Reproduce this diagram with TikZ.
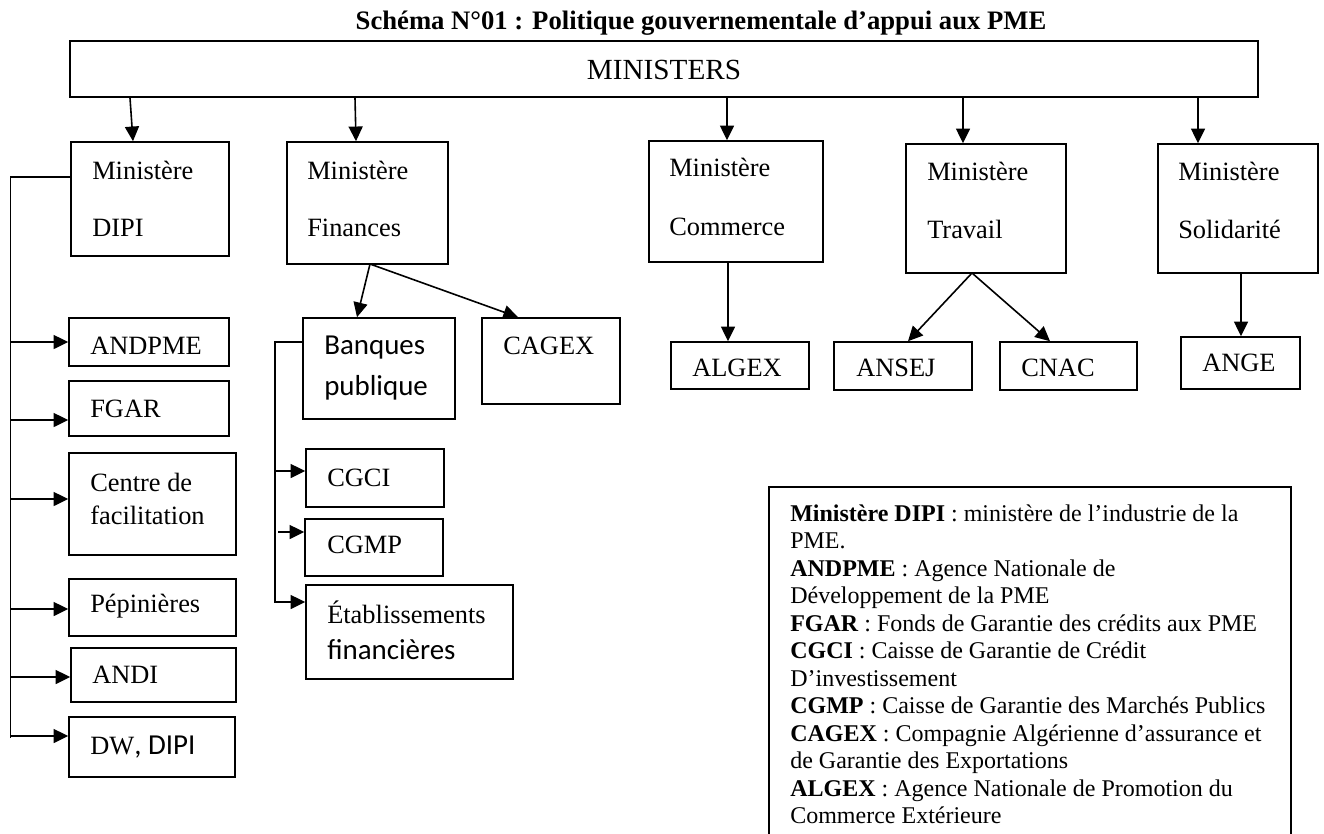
\documentclass[tikz,border=0pt]{standalone}
\usepackage{fontspec}
\setmainfont{Liberation Serif}
\newfontfamily\calib{Carlito}
\usetikzlibrary{arrows.meta,fit}
\begin{document}
\begin{tikzpicture}[x=0.75pt,y=-0.75pt,
  box/.style={draw, line width=1.2pt, inner sep=0pt, rectangle},
  txt/.style={anchor=west, inner sep=0pt, font=\fontsize{19.8}{22}\selectfont},
  sans/.style={anchor=west, inner sep=0pt, font=\calib\fontsize{21.7}{24}\selectfont},
  leg/.style={anchor=base west, inner sep=0pt, font=\fontsize{18}{20}\selectfont},
  ln/.style={line width=1.2pt},
  arr/.style={line width=1.2pt, -{Triangle[length=11pt,width=10.5pt]}}]
\fill[white] (0,0) rectangle (1324,833);
\useasboundingbox (0,0) rectangle (1324,833);
% title
\node[inner sep=0pt, font=\bfseries\fontsize{20}{24}\selectfont] (title) at (701,23) {Schéma N°01 : Politique gouvernementale d’appui aux PME};
% top box
\node[box, fit={(70,41) (1258,97)}] (min) {};
\node[inner sep=0pt, font=\fontsize{21.9}{24}\selectfont] (mintxt) at (664,70) {MINISTERS};
% ministries
\node[box, fit={(71,142) (229,256)}] (dipi) {};
\node[txt] (dipi1) at (92,170) {Ministère};
\node[txt] (dipi2) at (92,228) {DIPI};
\node[box, fit={(287,142) (448,264)}] (fin) {};
\node[txt] (fin1) at (307,170) {Ministère};
\node[txt] (fin2) at (307,228) {Finances};
\node[box, fit={(649,141) (823,262)}] (com) {};
\node[txt] (com1) at (669,167) {Ministère};
\node[txt] (com2) at (669,227) {Commerce};
\node[box, fit={(906,144) (1066,273)}] (trav) {};
\node[txt] (trav1) at (927,171) {Ministère};
\node[txt] (trav2) at (927,229) {Travail};
\node[box, fit={(1158,144) (1318,273)}] (sol) {};
\node[txt] (sol1) at (1178,171) {Ministère};
\node[txt] (sol2) at (1178,229) {Solidarité};
% arrows from MINISTERS
\draw[arr] (min.south -| 130,0) -- (dipi.north -| 133,0);
\draw[arr] (min.south -| 355,0) -- (fin.north -| 356,0);
\draw[arr] (min.south -| 727,0) -- (com.north -| 727,0);
\draw[arr] (min.south -| 963,0) -- (trav.north -| 963,0);
\draw[arr] (min.south -| 1198,0) -- (sol.north -| 1198,0);
% DIPI column
\node[box, fit={(69,318) (229,366)}] (andpme) {};
\node[txt] (andpmet) at (90,346) {ANDPME};
\node[box, fit={(69,381) (229,436)}] (fgar) {};
\node[txt] (fgart) at (90,409) {FGAR};
\node[box, fit={(69,453) (236,555)}] (centre) {};
\node[txt] (centre1) at (90,482) {Centre de};
\node[txt] (centre2) at (90,515) {facilitation};
\node[box, fit={(69,579) (236,636)}] (pepi) {};
\node[txt] (pepit) at (90,606) {Pépinières};
\node[box, fit={(71,648) (236,702)}] (andi) {};
\node[txt] (andit) at (92,675) {ANDI};
\node[box, fit={(69,717) (235,777)}] (dw) {};
\node[txt] (dwt) at (90,747) {DW{\calib\fontsize{21.7}{24}\selectfont, DIPI}};
\coordinate (lc1) at (10.5,177);
\coordinate (lc2) at (10.5,738);
\draw[ln] (dipi.west |- lc1) -- (lc1) -- (lc2);
\draw[arr] (lc1 |- 0,342) -- (andpme.west |- 0,342);
\draw[arr] (lc1 |- 0,420) -- (fgar.west |- 0,420);
\draw[arr] (lc1 |- 0,499) -- (centre.west |- 0,499);
\draw[arr] (lc1 |- 0,609) -- (pepi.west |- 0,609);
\draw[arr] (lc1 |- 0,677) -- (andi.west |- 0,677);
\draw[arr] (lc1 |- 0,736) -- (dw.west |- 0,736);
% Finances column
\node[box, fit={(303,318) (455,419)}] (banq) {};
\node[sans] (banq1) at (324,348) {Banques};
\node[sans] (banq2) at (324,388) {publique};
\node[box, fit={(482,318) (620,404)}] (cagex) {};
\node[txt] (cagext) at (503,346) {CAGEX};
\coordinate (fs) at (370,264);
\draw[arr] (fs) -- (banq.north -| 357,0);
\draw[arr] (fs) -- (cagex.north -| 518,0);
\node[box, fit={(306,449) (444,507)}] (cgci) {};
\node[txt] (cgcit) at (327,478) {CGCI};
\node[box, fit={(305,519) (443,576)}] (cgmp) {};
\node[txt] (cgmpt) at (327,545) {CGMP};
\node[box, fit={(306,585) (513,679)}] (etab) {};
\node[txt] (etab1) at (327,612) {Établissements};
\node[sans] (etab2) at (327,650) {financières};
\coordinate (bc1) at (275,342);
\coordinate (bc2) at (275,603);
\draw[ln] (banq.west |- bc1) -- (bc1) -- (bc2);
\draw[arr] (bc1 |- 0,471) -- (cgci.west |- 0,471);
\draw[arr] (278,532) -- (cgmp.west |- 0,532);
\draw[arr] (bc1 |- 0,602) -- (etab.west |- 0,602);
% Commerce, Travail, Solidarite
\node[box, fit={(671,342) (809,389)}] (algex) {};
\node[txt] (algext) at (692,368) {ALGEX};
\draw[arr] (com.south -| 728,0) -- (algex.north -| 728,0);
\node[box, fit={(834,342) (972,390)}] (ansej) {};
\node[txt] (ansejt) at (856,368) {ANSEJ};
\node[box, fit={(1000,342) (1137,390)}] (cnac) {};
\node[txt] (cnact) at (1021,368) {CNAC};
\coordinate (ts) at (972,273);
\draw[arr] (ts) -- (ansej.north -| 908,0);
\draw[arr] (ts) -- (cnac.north -| 1050,0);
\node[box, fit={(1181,337) (1300,389)}] (ange) {};
\node[txt] (anget) at (1202,363) {ANGE};
\draw[arr] (sol.south -| 1241,0) -- (ange.north -| 1241,0);
% legend
\draw[ln] (769,840) -- (769,487) -- (1291,487) -- (1291,840);
\node[leg] (l1) at (790,521) {\textbf{Ministère DIPI} : ministère de l’industrie de la};
\node[leg] (l2) at (790,548.5) {PME.};
\node[leg] (l3) at (790,576) {\textbf{ANDPME} : Agence Nationale de};
\node[leg] (l4) at (790,603.5) {Développement de la PME};
\node[leg] (l5) at (790,631) {\textbf{FGAR} : Fonds de Garantie des crédits aux PME};
\node[leg] (l6) at (790,658.5) {\textbf{CGCI} : Caisse de Garantie de Crédit};
\node[leg] (l7) at (790,686) {D’investissement};
\node[leg] (l8) at (790,713.5) {\textbf{CGMP} : Caisse de Garantie des Marchés Publics};
\node[leg] (l9) at (790,741) {\textbf{CAGEX} : Compagnie Algérienne d’assurance et};
\node[leg] (l10) at (790,768.5) {de Garantie des Exportations};
\node[leg] (l11) at (790,796) {\textbf{ALGEX} : Agence Nationale de Promotion du};
\node[leg] (l12) at (790,823.5) {Commerce Extérieure};
\end{tikzpicture}
\end{document}
